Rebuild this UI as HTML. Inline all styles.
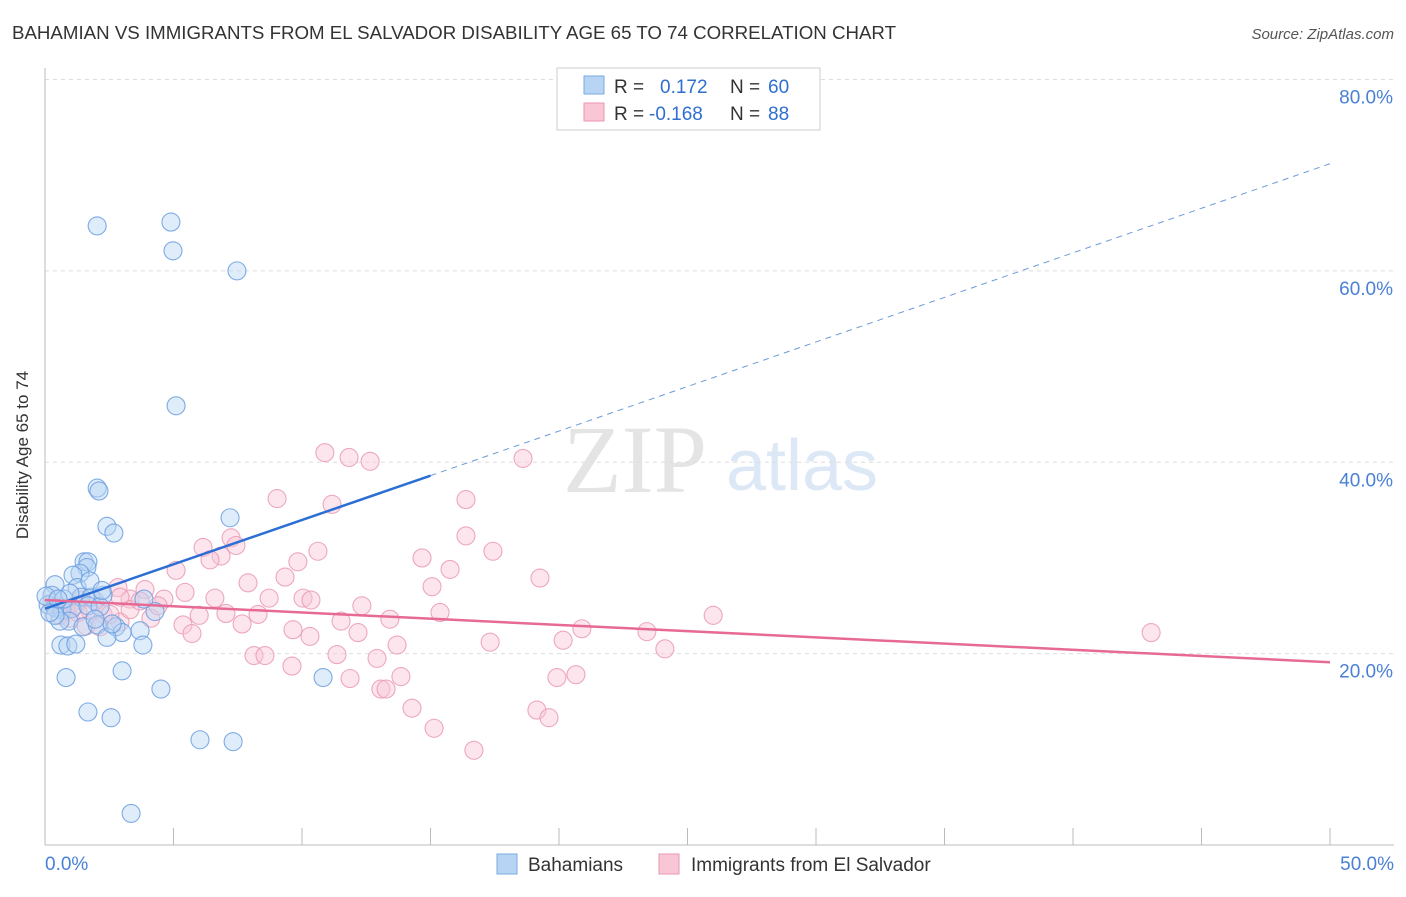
<!DOCTYPE html>
<html><head><meta charset="utf-8">
<style>
body{margin:0;background:#fff;font-family:"Liberation Sans",sans-serif;}
svg text{font-family:"Liberation Sans",sans-serif;}
</style></head>
<body>
<svg id="chart" width="1406" height="892" xmlns="http://www.w3.org/2000/svg">
<text x="12" y="39" font-size="18" fill="#333" textLength="884" lengthAdjust="spacingAndGlyphs">BAHAMIAN VS IMMIGRANTS FROM EL SALVADOR DISABILITY AGE 65 TO 74 CORRELATION CHART</text>
<text x="1394" y="39" font-size="15" fill="#555" text-anchor="end" font-style="italic">Source: ZipAtlas.com</text>
<text x="28" y="455" font-size="17" fill="#333" text-anchor="middle" transform="rotate(-90 28 455)">Disability Age 65 to 74</text>
<g>
<text x="635" y="492" font-size="96" fill="#e4e4e4" text-anchor="middle" font-family="Liberation Serif" style="font-family:'Liberation Serif',serif">ZIP</text>
<text x="802" y="490" font-size="72" fill="#dce8f6" text-anchor="middle">atlas</text>
</g>
<g id="grid"></g>
<g id="axes"></g>
<g id="pts"></g>
<g id="trends"></g>
<g>
<rect x="557" y="68" width="263" height="62" fill="#fff" stroke="#ccc"/>
<rect x="584" y="76" width="20" height="18" fill="#b8d4f4" stroke="#7aaae0"/>
<rect x="584" y="103" width="20" height="18" fill="#f9c6d6" stroke="#eb96b2"/>
<text x="614" y="93" font-size="19" fill="#333">R =</text>
<text x="660" y="93" font-size="19" fill="#2f6fd0">0.172</text>
<text x="730" y="93" font-size="19" fill="#333">N =</text>
<text x="768" y="93" font-size="19" fill="#2f6fd0">60</text>
<text x="614" y="120" font-size="19" fill="#333">R =</text>
<text x="649" y="120" font-size="19" fill="#2f6fd0">-0.168</text>
<text x="730" y="120" font-size="19" fill="#333">N =</text>
<text x="768" y="120" font-size="19" fill="#2f6fd0">88</text>
</g>
<g>
<rect x="497" y="854" width="20" height="20" fill="#b8d4f4" stroke="#7aaae0"/>
<text x="528" y="871" font-size="19" fill="#333">Bahamians</text>
<rect x="659" y="854" width="20" height="20" fill="#f9c6d6" stroke="#eb96b2"/>
<text x="691" y="871" font-size="19" fill="#333">Immigrants from El Salvador</text>
</g>
</svg>
<script>
const yTicks=[20,40,60,80];
const yTickLabels=["20.0%","40.0%","60.0%","80.0%"];
const xTickLabels=["0.0%","50.0%"];
const bahamiansX=[2.03,4.9,4.98,7.47,5.1,2.03,2.1,2.41,2.68,7.2,1.52,1.67,1.63,1.36,1.09,0.39,1.25,1.4,1.79,2.26,0.27,0.12,0.39,0.66,1.05,1.67,2.14,0.93,0.58,1.48,2.03,2.76,3.0,2.41,3.7,4.28,3.85,0.62,0.89,1.2,0.82,3.0,4.51,1.67,2.57,6.03,7.32,3.35,10.82,3.81,0.39,0.19,0.74,0.97,1.95,2.61,0.04,0.51,1.75,2.22];
const bahamiansY=[64.7,65.1,62.1,60.0,45.9,37.3,37.0,33.3,32.6,34.2,29.6,29.6,29.0,28.4,28.2,27.2,26.9,25.9,25.9,26.1,26.1,25.1,24.8,24.6,24.7,25.0,24.9,23.4,23.4,22.8,23.0,22.8,22.2,21.7,22.4,24.4,25.7,20.9,20.8,21.0,17.5,18.2,16.3,13.9,13.3,11.0,10.8,3.3,17.5,20.9,24.0,24.3,25.7,26.3,23.6,23.1,26.0,25.7,27.6,26.6];
const salvadorX=[10.89,11.83,12.65,18.6,9.03,11.17,16.38,16.38,17.43,7.24,7.43,6.15,6.85,6.42,10.62,9.84,14.67,15.76,19.26,5.1,7.9,9.34,2.84,3.89,15.06,3.31,4.63,5.45,6.61,8.72,10.04,10.35,12.33,13.42,15.37,26.0,43.04,11.52,8.29,7.04,6.0,5.37,5.72,4.12,2.26,2.92,3.31,4.4,1.75,1.36,1.95,2.53,7.67,9.65,10.31,12.18,13.7,17.32,20.16,20.89,23.42,24.12,8.13,8.56,11.36,12.92,9.61,11.87,13.85,13.07,13.27,19.92,20.66,14.28,19.14,19.61,15.14,16.69,0.58,0.97,0.27,1.17,1.6,3.7,2.14,0.82,1.28,2.92];
const salvadorY=[41.0,40.5,40.1,40.4,36.2,35.6,36.1,32.3,30.7,32.1,31.3,31.1,30.2,29.8,30.7,29.6,30.0,28.8,27.9,28.7,27.4,28.0,26.9,26.7,27.0,25.7,25.7,26.4,25.8,25.8,25.8,25.6,25.0,23.6,24.3,24.0,22.2,23.4,24.1,24.2,24.0,23.0,22.1,23.7,24.1,23.3,24.6,25.0,24.5,25.6,25.5,24.1,23.1,22.5,21.8,22.2,20.9,21.2,21.4,22.6,22.3,20.5,19.8,19.8,19.9,19.5,18.7,17.4,17.6,16.3,16.3,17.5,17.8,14.3,14.1,13.3,12.2,9.9,24.0,23.7,25.3,25.0,22.9,25.5,22.8,24.5,24.3,25.9];
const blueTrendX=[0,15,50];
const blueTrendY=[24.7,38.6,71.2];
const pinkTrendX=[0,50];
const pinkTrendY=[25.6,19.1];
const X=v=>45+v/50*1285, Y=v=>845-v/80*765.5;
const NS="http://www.w3.org/2000/svg";
function mk(tag,attrs,parent){const e=document.createElementNS(NS,tag);for(const k in attrs)e.setAttribute(k,attrs[k]);parent.appendChild(e);return e;}
const grid=document.getElementById('grid'),axes=document.getElementById('axes'),pts=document.getElementById('pts'),tr=document.getElementById('trends');
yTicks.forEach((t,i)=>{
 const l=mk('line',{x1:45,x2:1394,y1:Y(t),y2:Y(t),stroke:'#ddd','stroke-dasharray':'4,4'},grid);
 
 
 const tx=mk('text',{x:1393,y:Y(t)+24,'font-size':19,fill:'#4a80d6','text-anchor':'end'},axes);
 tx.textContent=yTickLabels[i];
 
 
});
const ax=mk('line',{x1:45,x2:45,y1:68,y2:845,stroke:'#bbb'},axes);


const bx=mk('line',{x1:45,x2:1394,y1:845,y2:845,stroke:'#bbb'},axes);


for(let i=1;i<=10;i++){const t=mk('line',{x1:X(i*5),x2:X(i*5),y1:828,y2:845,stroke:'#bbb'},axes);
 
 }
[[0,'start',45],[50,'end',1394]].forEach((d,i)=>{const t=mk('text',{x:d[2],y:870,'font-size':19,fill:'#4a80d6','text-anchor':d[1]},axes);t.textContent=xTickLabels[i];
 
 });
function dots(xs,ys,fill,stroke,name){xs.forEach((x,i)=>{const c=mk('circle',{cx:X(x),cy:Y(ys[i]),r:9,fill:fill,'fill-opacity':0.45,stroke:stroke,'stroke-width':1.1,'stroke-opacity':0.85},pts);
 
 });}
dots(salvadorX,salvadorY,'#f9c6d6','#ea9ab4','salvador-point');
dots(bahamiansX,bahamiansY,'#b8d4f4','#6a9ee0','bahamian-point');
const b1=mk('line',{x1:X(blueTrendX[0]),y1:Y(blueTrendY[0]),x2:X(blueTrendX[1]),y2:Y(blueTrendY[1]),stroke:'#2b6fd4','stroke-width':2.5},tr);


const b2=mk('line',{x1:X(blueTrendX[1]),y1:Y(blueTrendY[1]),x2:X(blueTrendX[2]),y2:Y(blueTrendY[2]),stroke:'#6a9ad8','stroke-width':1,'stroke-dasharray':'6,5'},tr);


const p1=mk('line',{x1:X(pinkTrendX[0]),y1:Y(pinkTrendY[0]),x2:X(pinkTrendX[1]),y2:Y(pinkTrendY[1]),stroke:'#e66a94','stroke-width':2.5},tr);


</script>
</body></html>
